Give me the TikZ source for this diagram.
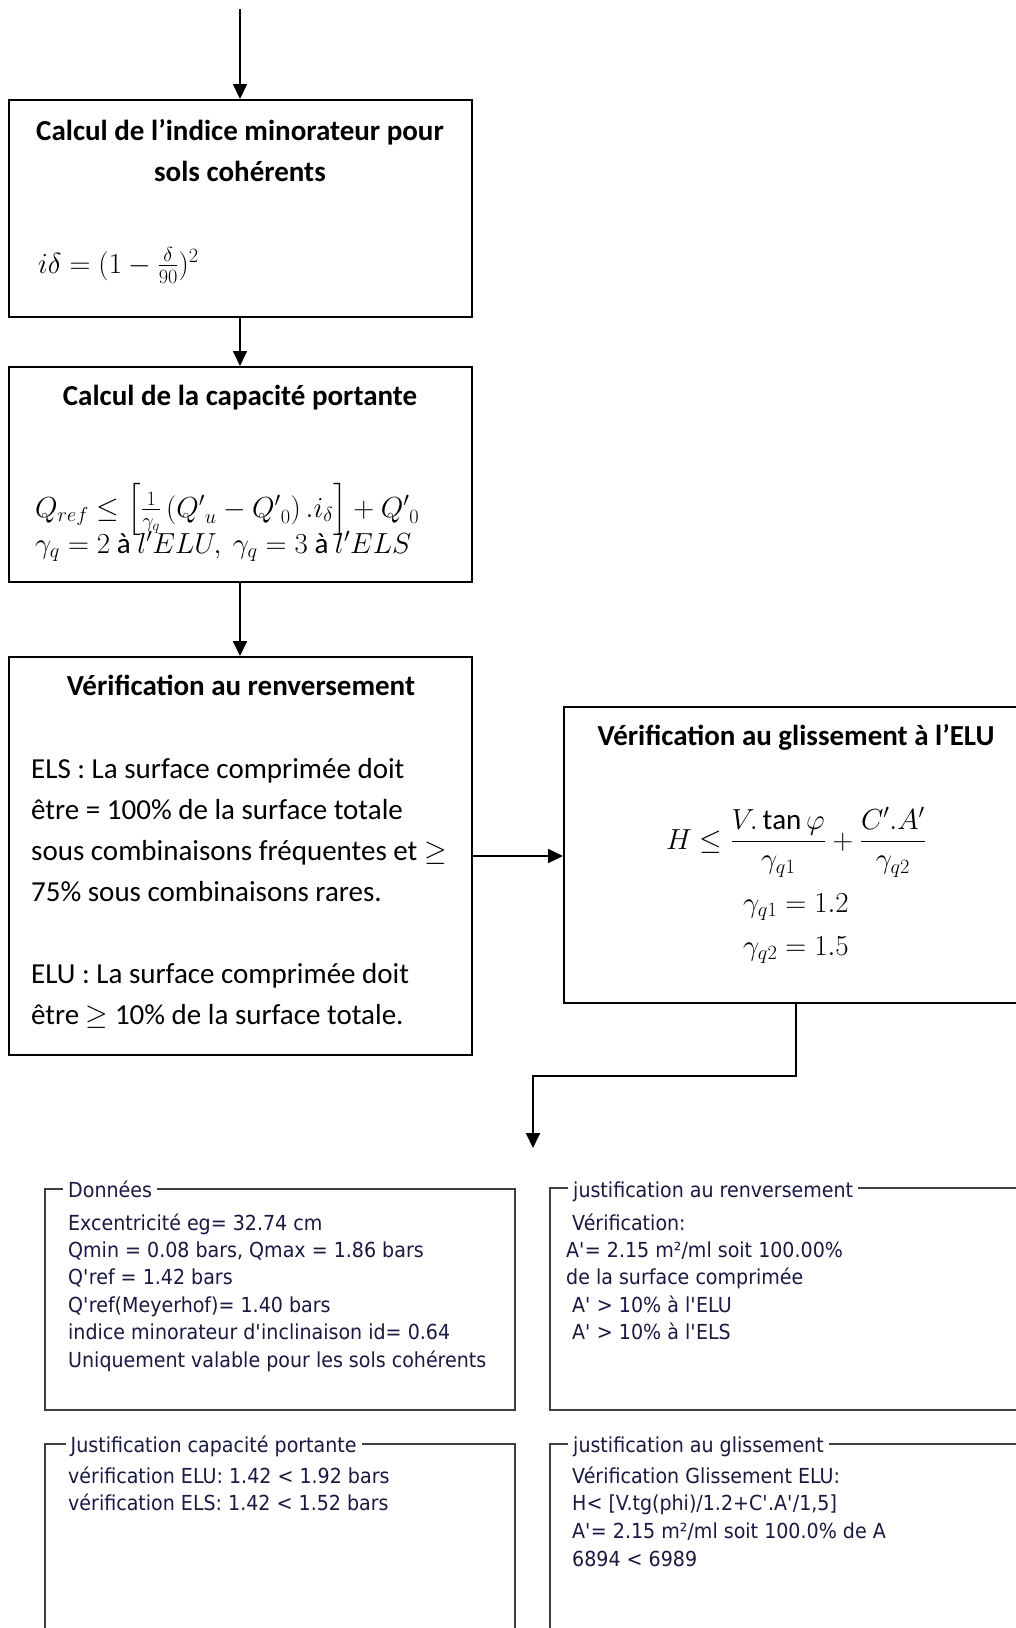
\RequirePackage{fix-cm}
\documentclass[tikz,border=0pt]{standalone}
\usepackage{amsmath}
\usepackage{amssymb}
\usepackage{fontspec}
\setmainfont{Carlito}
\newfontfamily\winfont[FakeStretch=0.92]{DejaVu Sans}
\usetikzlibrary{arrows.meta,positioning,calc}
\definecolor{winbleu}{RGB}{25,25,65}
\newcommand{\ap}{\textquotesingle}

\tikzset{
  boite/.style={draw, line width=2pt, rectangle, minimum width=463pt},
  fleche/.style={-{Triangle[length=15pt,width=14pt]}, line width=1.8pt},
  cadre/.style={draw=black!75, line width=1.8pt, rectangle},
  titre/.style={font=\fontsize{29}{35}\selectfont\bfseries, inner sep=0pt, anchor=base},
  corps/.style={font=\fontsize{29}{35}\selectfont, inner sep=0pt, anchor=base west},
  win/.style={font=\winfont\fontsize{20.7}{25}\selectfont, text=winbleu, inner sep=0pt, anchor=base west},
  wintitre/.style={win, fill=white, inner xsep=5pt, inner ysep=2pt}
}

\begin{document}
\begin{tikzpicture}[x=1pt,y=-1pt]
  \path[use as bounding box, fill=white] (0,0) rectangle (1016,1628);
  \clip (0,0) rectangle (1016,1628);

  % les quatre etapes
  \node[boite, minimum height=217pt] (b1) at (240,208.5) {};
  \node[boite, minimum height=215pt] (b2) at (240,474.5) {};
  \node[boite, minimum height=398pt] (b3) at (240,856) {};
  \node[boite, minimum width=464pt, minimum height=296pt] (b4) at (796,855) {};

  \node[titre] (t1a) at (240,140) {Calcul de l’indice minorateur pour};
  \node[titre] (t1b) at (240,181) {sols cohérents};
  \node[corps] (f1) at (38,273) {$i\delta = (1-\frac{\delta}{90})^2$};

  \node[titre] (t2) at (240,405) {Calcul de la capacité portante};
  \node[corps] (f2) at (35,517) {$Q_{ref} \leq \left[\frac{1}{\gamma_q}\left({Q'}_u - {Q'}_0\right).i_\delta\right] + {Q'}_0$};
  \node[corps] (f3) at (35,553) {$\gamma_q = 2 \text{ à } l'ELU,\ \gamma_q = 3 \text{ à } l'ELS$};

  \node[titre] (t3) at (241,695) {Vérification au renversement};
  \foreach \ligne/\k in {ELS : La surface comprimée doit/0, être = 100\% de la surface totale/1,
      sous combinaisons fréquentes et $\geq$/2, 75\% sous combinaisons rares./3,
      ELU : La surface comprimée doit/5, être $\geq$ 10\% de la surface totale./6}
    \node[corps] (r\k) at (31,{778+41*\k}) {\ligne};

  \node[titre] (t4) at (796,745) {Vérification au glissement à l’ELU};
  \node[corps, anchor=base] (f4) at (796,849) {$H \leq \dfrac{V.\tan\varphi}{\gamma_{q1}} + \dfrac{C'.A'}{\gamma_{q2}}$};
  \node[corps, anchor=base] (g1) at (796,912) {$\gamma_{q1} = 1.2$};
  \node[corps, anchor=base] (g2) at (796,955) {$\gamma_{q2} = 1.5$};

  % liaisons
  \coordinate (depart) at (240,9);
  \coordinate (coude) at (533,1076);
  \coordinate (arrivee) at (533,1148);
  \draw[fleche] (depart) -- (b1);
  \draw[fleche] (b1) -- (b2);
  \draw[fleche] (b2) -- (b3);
  \draw[fleche] (b3.east) -- (b3.east -| b4.west);
  \draw[fleche] (b4.south) |- (coude) -- (arrivee);

  % resultats du logiciel
  \node[cadre, minimum width=470pt, minimum height=221pt] (donnees) at (280,1299.5) {};
  \node[cadre, minimum width=490pt, minimum height=222pt] (renv) at (795,1299) {};
  \node[cadre, minimum width=470pt, minimum height=216pt] (port) at (280,1552) {};
  \node[cadre, minimum width=490pt, minimum height=216pt] (glis) at (795,1552) {};

  \node[wintitre] (tdon) at (63,1197) {Données};
  \node[wintitre] (tren) at (568,1197) {justification au renversement};
  \node[wintitre] (tpor) at (65.5,1452) {Justification capacité portante};
  \node[wintitre] (tgli) at (568,1452) {justification au glissement};

  \foreach \ligne [count=\i] in {Excentricité eg= 32.74 cm, {Qmin = 0.08 bars, Qmax = 1.86 bars},
      Q\ap ref = 1.42 bars, Q\ap ref(Meyerhof)= 1.40 bars,
      indice minorateur d\ap inclinaison id= 0.64, Uniquement valable pour les sols cohérents}
    \node[win] (d\i) at (68,{1230+27.4*(\i-1)}) {\ligne};

  \foreach \ligne/\xx [count=\i] in {Vérification:/572, {A\ap= 2.15 m²/ml soit 100.00\%}/566,
      de la surface comprimée/566, A\ap{} > 10\% à l\ap ELU/572, A\ap{} > 10\% à l\ap ELS/572}
    \node[win] (e\i) at (\xx,{1230+27.4*(\i-1)}) {\ligne};

  \foreach \ligne [count=\i] in {vérification ELU: 1.42 < 1.92 bars, vérification ELS: 1.42 < 1.52 bars}
    \node[win] (p\i) at (68,{1483+27.8*(\i-1)}) {\ligne};

  \foreach \ligne [count=\i] in {Vérification Glissement ELU:, {H< [V.tg(phi)/1.2+C\ap.A\ap/1,5]},
      {A\ap= 2.15 m²/ml soit 100.0\% de A}, 6894 < 6989}
    \node[win] (q\i) at (572,{1483+27.8*(\i-1)}) {\ligne};
\end{tikzpicture}
\end{document}
